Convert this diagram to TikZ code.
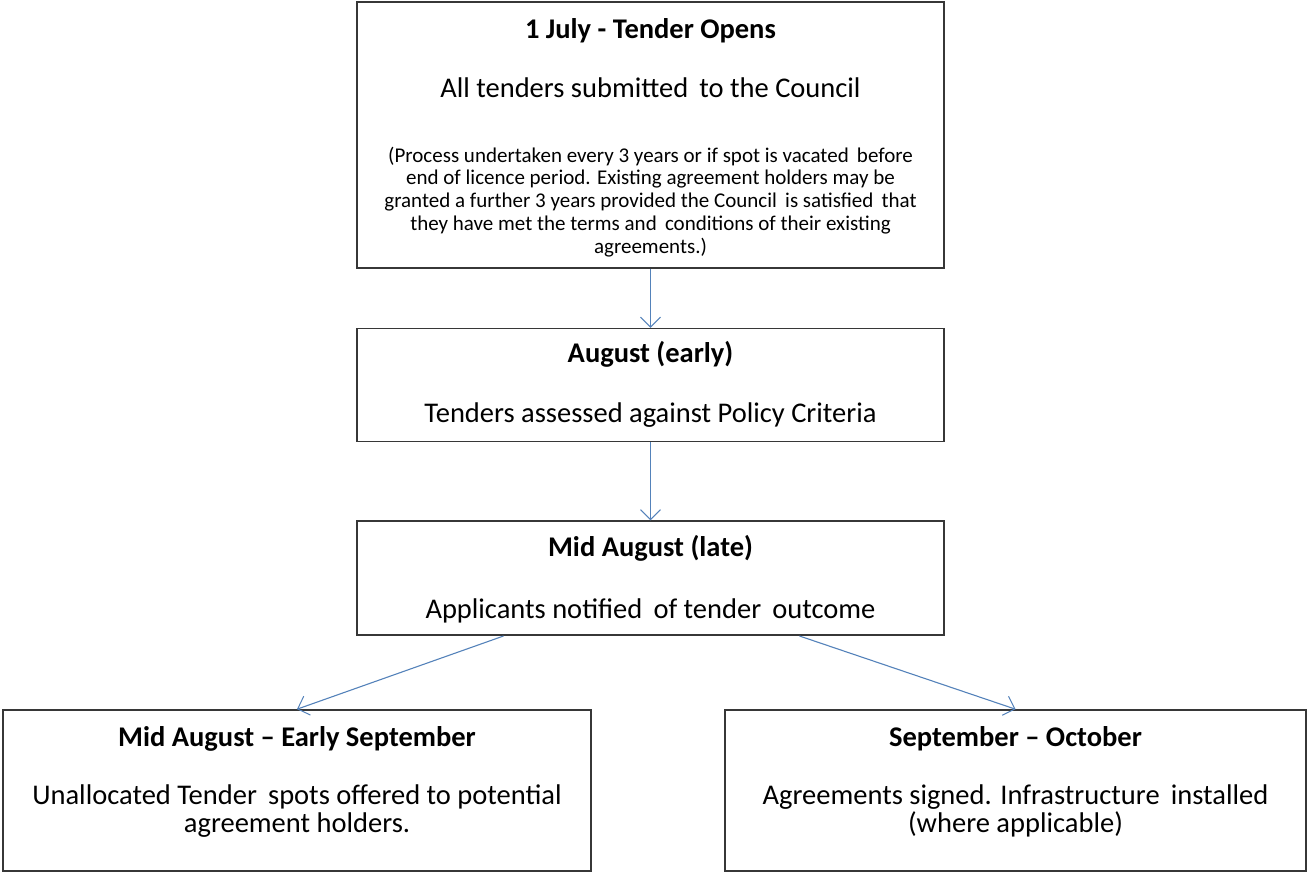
\documentclass[tikz,border=0pt]{standalone}
\usepackage{fontspec}
\setmainfont{Carlito}
\usepackage{tikz}
\usetikzlibrary{positioning, arrows.meta}
\definecolor{flowblue}{RGB}{84,130,186}
\definecolor{boxline}{RGB}{55,55,55}
\tikzset{
  % --- stage boxes ---
  stagebox/.style={draw=boxline, line width=1.6pt, rectangle, inner sep=0pt},
  stagehead/.style={font=\fontsize{28.5}{30}\selectfont\bfseries, inner sep=0pt, anchor=base},
  stagebody/.style={font=\fontsize{28.5}{28}\selectfont, align=center, inner sep=0pt, anchor=base},
  stagenote/.style={font=\fontsize{21}{22.75}\selectfont, align=center, inner sep=0pt, anchor=base},
  % --- connectors ---
  flow/.style={-{Straight Barb[length=10pt, width=20pt, line width=1pt]}, draw=flowblue, line width=1.1pt},
}

\begin{document}
\begin{tikzpicture}[x=1pt, y=-1pt]
    \useasboundingbox (0,0) rectangle (1310,873);

    % ---- Boxes ----
    \node[stagebox, minimum width=587pt, minimum height=266pt] (open) at (650.5,135) {};
    \node[stagebox, minimum width=587pt, minimum height=113pt, below=59pt of open] (assess) {};
    \node[stagebox, minimum width=587pt, minimum height=114pt, below=78pt of assess] (notify) {};
    \node[stagebox, minimum width=588pt, minimum height=161pt] (offer) at (297,790.5) {};
    \node[stagebox, minimum width=581pt, minimum height=161pt] (signed) at (1015.5,790.5) {};

    % ---- Texts (multi-line nodes sit on their last baseline) ----
    \node[stagehead] (openhead) at ([yshift=-37pt]open.north) {1 July - Tender Opens};
    \node[stagebody] (openbody) at ([yshift=-96pt]open.north) {All tenders submitted\, to the Council};
    \node[stagenote] (opennote) at ([yshift=-252pt]open.north) {(Process undertaken every 3 years or if spot is vacated\, before\\
      end of licence period. Existing agreement holders may be\\
      granted a further 3 years provided the Council\, is satisfied\, that\\
      they have met the terms and\, conditions of their existing\\
      agreements.)};

    \node[stagehead] (assesshead) at ([yshift=-35pt]assess.north) {August (early)};
    \node[stagebody] (assessbody) at ([yshift=-95pt]assess.north) {Tenders assessed against Policy Criteria};

    \node[stagehead] (notifyhead) at ([yshift=-36pt]notify.north) {Mid August (late)};
    \node[stagebody] (notifybody) at ([yshift=-98pt]notify.north) {Applicants notified\, of tender\, outcome};

    \node[stagehead] (offerhead) at ([yshift=-37pt]offer.north) {Mid August -- Early September};
    \node[stagebody] (offerbody) at ([yshift=-123pt]offer.north) {Unallocated Tender\, spots offered to potential\\agreement holders.};

    \node[stagehead] (signedhead) at ([yshift=-37pt]signed.north) {September -- October};
    \node[stagebody] (signedbody) at ([yshift=-123pt]signed.north) {Agreements signed. Infrastructure\, installed\\(where applicable)};

    % ---- Connectors ----
    \draw[flow] (open) -- (assess);
    \draw[flow] (assess) -- (notify);
    \coordinate (lstart) at ([xshift=-147pt]notify.south);
    \coordinate (rstart) at ([xshift=149pt]notify.south);
    \draw[flow] (lstart) -- (offer.north);
    \draw[flow] (rstart) -- (signed.north);
\end{tikzpicture}
\end{document}
